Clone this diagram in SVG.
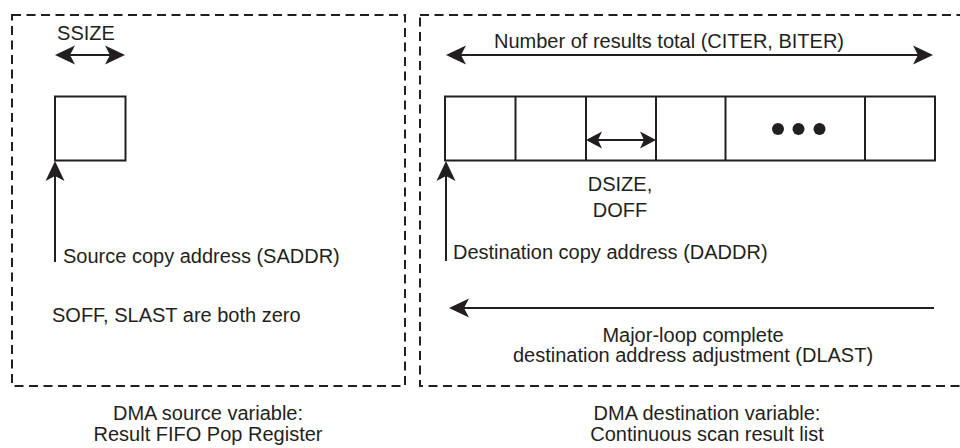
<svg xmlns="http://www.w3.org/2000/svg" width="960" height="448" viewBox="0 0 960 448">
<style>
.t{font-family:"Liberation Sans",Arial,sans-serif;font-size:20px;fill:#231f20}
.m{text-anchor:middle}
.frame{fill:none;stroke:#231f20;stroke-width:2;stroke-dasharray:9 5.5}
.box{fill:#fff;stroke:#231f20;stroke-width:2}
.ln{fill:none;stroke:#231f20;stroke-width:2}
.c{fill:none;stroke:#231f20;stroke-width:2}
</style>
<defs>
<marker id="ah" viewBox="-13 -11 22 22" refX="0" refY="0" markerWidth="22" markerHeight="22" markerUnits="userSpaceOnUse" orient="auto-start-reverse">
<path d="M8,0 L-12,-9.5 L-7,0 L-12,9.5 Z" fill="#231f20"/>
</marker>
<marker id="ahs" viewBox="-13 -11 22 22" refX="0" refY="0" markerWidth="22" markerHeight="22" markerUnits="userSpaceOnUse" orient="auto-start-reverse">
<path d="M8,0 L-8,-8.5 L-4,0 L-8,8.5 Z" fill="#231f20"/>
</marker>
</defs>
<rect width="960" height="448" fill="#fff"/>

<g id="source-panel">
<rect class="frame" x="12" y="15" width="393" height="371"/>
<text class="t m" x="86" y="40">SSIZE</text>
<text class="t" x="63" y="263">Source copy address (SADDR)</text>
<text class="t" x="52" y="322">SOFF, SLAST are both zero</text>
</g>
<g id="source-cell">
<rect class="box" x="55" y="96.5" width="70.5" height="64"/>
</g>
<g id="source-caption">
<text class="t m" x="208" y="420">DMA source variable:</text>
<text class="t m" x="208" y="441">Result FIFO Pop Register</text>
</g>

<g id="dest-panel">
<rect class="frame" x="420" y="15" width="570" height="371"/>
<text class="t m" x="669" y="48">Number of results total (CITER, BITER)</text>
<text class="t m" x="620" y="191">DSIZE,</text>
<text class="t m" x="620" y="217">DOFF</text>
<text class="t" x="453" y="259">Destination copy address (DADDR)</text>
<text class="t m" x="693" y="342">Major-loop complete</text>
<text class="t m" x="693" y="362">destination address adjustment (DLAST)</text>
</g>
<g id="dest-list">
<rect class="box" x="445" y="96.5" width="490" height="64"/>
<path class="ln" d="M515.5,96.5V160.5M586,96.5V160.5M656,96.5V160.5M725.5,96.5V160.5M865,96.5V160.5"/>
<circle cx="778" cy="129" r="6" fill="#231f20"/>
<circle cx="798.5" cy="129" r="6" fill="#231f20"/>
<circle cx="819.5" cy="129" r="6" fill="#231f20"/>
</g>
<g id="dest-caption">
<text class="t m" x="707" y="420">DMA destination variable:</text>
<text class="t m" x="707" y="441">Continuous scan result list</text>
</g>

<g id="connectors">
<line class="c" x1="63" y1="55" x2="117" y2="55" marker-start="url(#ah)" marker-end="url(#ah)"/>
<line class="c" x1="454" y1="55" x2="925" y2="55" marker-start="url(#ah)" marker-end="url(#ah)"/>
<line class="c" x1="594" y1="140" x2="648" y2="140" marker-start="url(#ahs)" marker-end="url(#ahs)"/>
<line class="c" x1="55" y1="262" x2="55" y2="169" marker-end="url(#ah)"/>
<line class="c" x1="446" y1="261" x2="446" y2="169" marker-end="url(#ah)"/>
<line class="c" x1="934" y1="308" x2="457" y2="308" marker-end="url(#ah)"/>
</g>
</svg>
